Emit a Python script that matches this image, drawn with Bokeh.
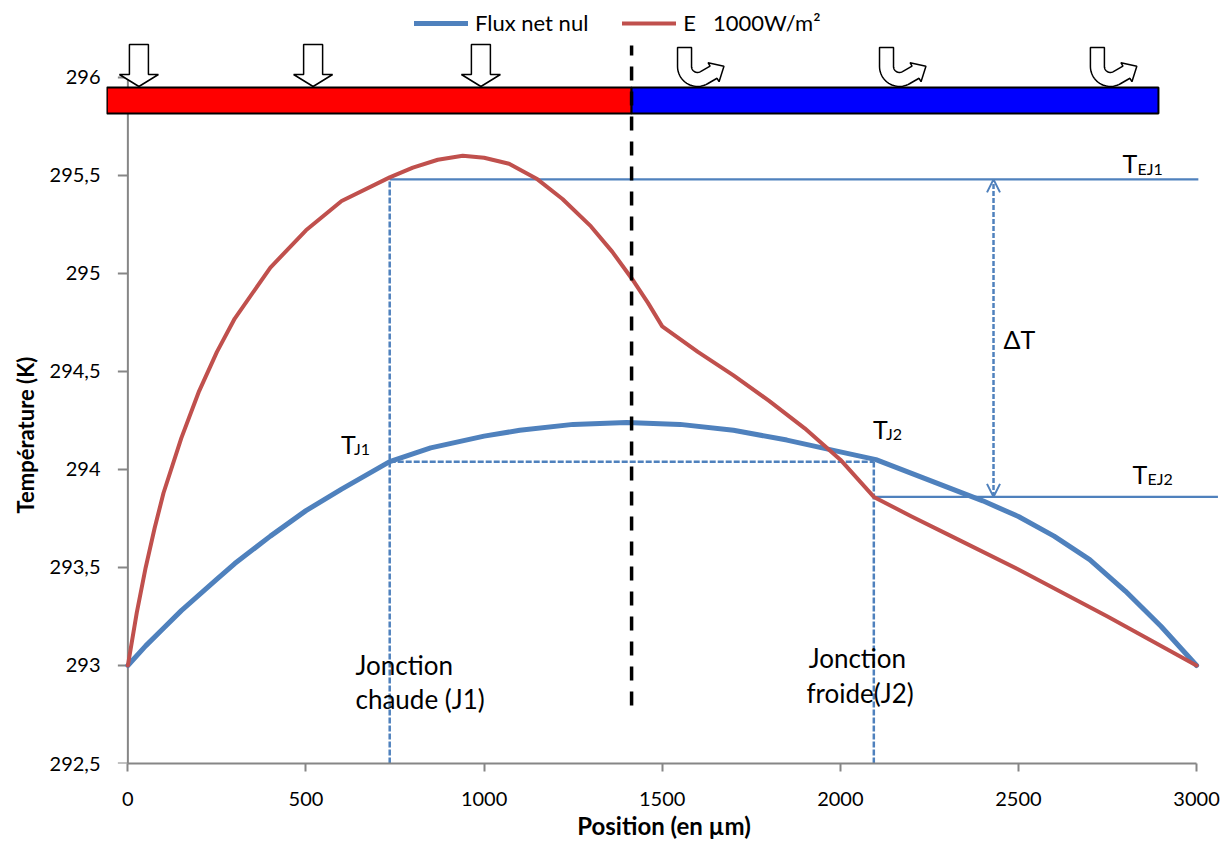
import numpy as np
from bokeh.plotting import figure
from bokeh.models import Range1d, FixedTicker, Legend, LegendItem, Label, Arrow, OpenHead, Title
from bokeh.embed import file_html
from bokeh.resources import INLINE

# ---------------- data ----------------
flux_pos = [0, 50, 100, 150, 200, 250, 300, 400, 500, 600, 735, 850, 1000, 1100, 1250, 1400,
            1550, 1700, 1850, 2000, 2100, 2200, 2300, 2400, 2500, 2600, 2700, 2800, 2900, 3000]
flux_temp = [293.0, 293.1, 293.19, 293.28, 293.36, 293.44, 293.52, 293.66, 293.79, 293.9, 294.04,
             294.11, 294.17, 294.2, 294.23, 294.24, 294.23, 294.2, 294.15, 294.09, 294.05, 293.98,
             293.91, 293.84, 293.76, 293.66, 293.54, 293.38, 293.2, 293.0]

e_pos = [0, 25, 50, 75, 100, 150, 200, 250, 300, 400, 500, 600, 735, 800, 870, 940, 1000, 1070,
         1150, 1220, 1300, 1360, 1420, 1460, 1500, 1600, 1700, 1800, 1900, 2000, 2094, 2200, 2300,
         2500, 2750, 3000]
e_temp = [293.0, 293.27, 293.5, 293.7, 293.88, 294.16, 294.4, 294.6, 294.77, 295.03, 295.22,
          295.37, 295.49, 295.54, 295.58, 295.6, 295.59, 295.56, 295.48, 295.38, 295.24, 295.11,
          294.96, 294.85, 294.73, 294.6, 294.48, 294.35, 294.21, 294.05, 293.86, 293.76, 293.67,
          293.49, 293.25, 293.0]

x_ticks = [0, 500, 1000, 1500, 2000, 2500, 3000]
y_ticks = [292.5, 293.0, 293.5, 294.0, 294.5, 295.0, 295.5, 296.0]
y_tick_labels = ["292,5", "293", "293,5", "294", "294,5", "295", "295,5", "296"]

j1_pos, j2_pos = 735, 2094          # junction positions
t_j = 294.04                        # junction temperature (zero net flux)
t_ej1, t_ej2 = 295.48, 293.86       # junction temperatures under E = 1000 W/m2
split_pos = 1414                    # hot / cold boundary
strip_start, strip_end = -59, 2893
strip_bottom, strip_top = 295.816, 295.949
delta_pos = 2430
hot_arrow_pos = [31, 520, 991]
cold_arrow_pos = [1543, 2110, 2702]

# ---------------- styling ----------------
FONT = "Lato"
BLUE = "#4F81BD"
RED = "#C0504D"
AXIS = "#868686"

X0, X1 = -60, 3070
Y0, Y1 = 292.5, 296.367
FW, FH = 1115, 758
kx = (X1 - X0) / FW   # data units per pixel
ky = (Y1 - Y0) / FH

p = figure(frame_width=FW, frame_height=FH, x_range=Range1d(X0, X1), y_range=Range1d(Y0, Y1),
           min_border_left=106, min_border_right=10, min_border_top=5, min_border_bottom=83,
           output_backend="svg", toolbar_location=None)
p.outline_line_color = None
p.grid.visible = False
p.background_fill_color = "white"
p.border_fill_color = "white"

# x axis
xa = p.xaxis[0]
xa.ticker = FixedTicker(ticks=x_ticks)
xa.bounds = (0, 3000)
xa.axis_line_color = AXIS
xa.axis_line_width = 2
xa.major_tick_line_color = AXIS
xa.major_tick_line_width = 2
xa.major_tick_out = 8
xa.major_tick_in = 0
xa.minor_tick_line_color = None
xa.major_label_text_font = FONT
xa.major_label_text_font_size = "20px"
xa.major_label_text_color = "black"
xa.major_label_standoff = 20
xa.axis_label = "Position (en µm)"
xa.axis_label_text_font = FONT
xa.axis_label_text_font_size = "24px"
xa.axis_label_text_font_style = "bold"
xa.axis_label_text_color = "black"
xa.axis_label_standoff = 2

# y axis: labels from the frame-edge axis, line and ticks drawn at x = 0
ya = p.yaxis[0]
ya.ticker = FixedTicker(ticks=y_ticks)
ya.major_label_overrides = {t: l for t, l in zip(y_ticks, y_tick_labels)}
ya.axis_line_color = None
ya.major_tick_line_color = None
ya.minor_tick_line_color = None
ya.major_tick_out = 0
ya.major_tick_in = 0
ya.major_label_standoff = 6
ya.major_label_text_font = FONT
ya.major_label_text_font_size = "20px"
ya.major_label_text_color = "black"

tick_len = 10 * kx
p.segment(x0=[0], y0=[y_ticks[0]], x1=[0], y1=[y_ticks[-1]], line_color=AXIS, line_width=2)
p.segment(x0=[-tick_len] * len(y_ticks), y0=y_ticks, x1=[0] * len(y_ticks), y1=y_ticks,
          line_color=AXIS, line_width=2)

# y axis title in the left panel (starts ~250 px above the frame bottom)
p.add_layout(Title(text="Température (K)", align="left", offset=250, standoff=15,
                   text_font=FONT, text_font_size="22px", text_font_style="bold",
                   text_color="black"), "left")

# helper construction lines
p.segment(x0=[j1_pos, j2_pos, j1_pos], y0=[Y0, Y0, t_j], x1=[j1_pos, j2_pos, j2_pos],
          y1=[t_ej1, t_j, t_j], line_color=BLUE, line_width=2.5, line_dash="6 2")
p.segment(x0=[j1_pos, j2_pos], y0=[t_ej1, t_ej2], x1=[3005, 3060], y1=[t_ej1, t_ej2],
          line_color=BLUE, line_width=2.2)

# curves
r_flux = p.line(flux_pos, flux_temp, line_color=BLUE, line_width=5, line_join="round", line_cap="round")
r_e = p.line(e_pos, e_temp, line_color=RED, line_width=4, line_join="round", line_cap="round")

# delta T arrow
p.add_layout(Arrow(x_start=delta_pos, y_start=t_ej2, x_end=delta_pos, y_end=t_ej1,
                   line_color=BLUE, line_width=2.5, line_dash="5 2",
                   start=OpenHead(size=13, line_color=BLUE, line_width=2),
                   end=OpenHead(size=13, line_color=BLUE, line_width=2)))

# hot / cold strip
p.quad(left=[strip_start], right=[split_pos], bottom=[strip_bottom], top=[strip_top],
       fill_color="#FF0000", line_color="black", line_width=2)
p.quad(left=[split_pos], right=[strip_end], bottom=[strip_bottom], top=[strip_top],
       fill_color="#0000FF", line_color="black", line_width=2)

# boundary dashed line
p.segment(x0=[split_pos], y0=[292.796], x1=[split_pos], y1=[296.163],
          line_color="black", line_width=3.5, line_dash="14 11")

# incoming flux arrows (hollow, pointing down)
down_shape = [(-9.5, 0), (9.5, 0), (9.5, 30), (19.5, 30), (0, 42), (-19.5, 30), (-9.5, 30)]
top_down = 296.168
xs, ys = [], []
for cx in hot_arrow_pos:
    xs.append([cx + sx * kx for sx, sy in down_shape])
    ys.append([top_down - sy * ky for sx, sy in down_shape])
p.patches(xs, ys, fill_color="white", line_color="black", line_width=1.5)


# outgoing flux arrows (U-turn)
def uturn_shape():
    w, r, cx, cy = 7.0, 13.0, 20.0, 19.0
    cl, tan = [], []
    for yy in np.linspace(0, cy, 6)[:-1]:
        cl.append((cx - r, yy))
        tan.append((0.0, 1.0))
    for t in np.linspace(np.pi, np.pi / 3, 24):
        cl.append((cx + r * np.cos(t), cy + r * np.sin(t)))
        tan.append((np.sin(t), -np.cos(t)))
    ex, ey = cl[-1]
    tx, ty = tan[-1]
    cl.append((ex + 11 * tx, ey + 11 * ty))
    tan.append((tx, ty))
    left = [(x - w * t2, y + w * t1) for (x, y), (t1, t2) in zip(cl, tan)]
    right = [(x + w * t2, y - w * t1) for (x, y), (t1, t2) in zip(cl, tan)]
    ex, ey = cl[-1]
    nx, ny = -ty, tx
    hw, hl = 11.0, 12.0
    head = [(ex + hw * nx, ey + hw * ny), (ex + hl * tx, ey + hl * ty), (ex - hw * nx, ey - hw * ny)]
    return left + head + right[::-1]


ushape = uturn_shape()
top_u = 296.153
xs, ys = [], []
for lx in cold_arrow_pos:
    xs.append([lx + sx * kx for sx, sy in ushape])
    ys.append([top_u - sy * ky for sx, sy in ushape])
p.patches(xs, ys, fill_color="white", line_color="black", line_width=1.5)


# annotations
def add_text(x, y, text, size, x_off=0, y_off=0):
    p.add_layout(Label(x=x, y=y, text=text, x_offset=x_off, y_offset=y_off + 10, text_font=FONT,
                       text_font_size=size, text_color="black", text_baseline="alphabetic",
                       text_align="left"))


def add_sub(x, y, main, sub, dx):
    add_text(x, y, main, "25px")
    add_text(x, y, sub, "16px", x_off=dx, y_off=-5)


add_sub(2792, 295.51, "T", "EJ1", 15)
add_sub(2820, 293.928, "T", "EJ2", 15)
add_sub(598, 294.081, "T", "J1", 13)
add_sub(2092, 294.158, "T", "J2", 13)
add_text(2458, 294.617, "ΔT", "25px")
add_text(639, 292.949, "Jonction", "26px")
add_text(639, 292.780, "chaude (J1)", "26px")
add_text(1911, 292.985, "Jonction", "26px")
add_text(1905, 292.81, "froide(J2)", "26px")

legend = Legend(items=[LegendItem(label="Flux net nul", renderers=[r_flux]),
                       LegendItem(label="E   1000W/m²", renderers=[r_e])],
                location=(308, 727), orientation="horizontal",
                glyph_width=54, glyph_height=20, label_standoff=7, spacing=34,
                padding=0, margin=0, border_line_alpha=0, background_fill_alpha=0,
                label_text_font=FONT, label_text_font_size="22px", label_text_color="black")
p.add_layout(legend)

open("out.html", "w").write(file_html(p, INLINE))
